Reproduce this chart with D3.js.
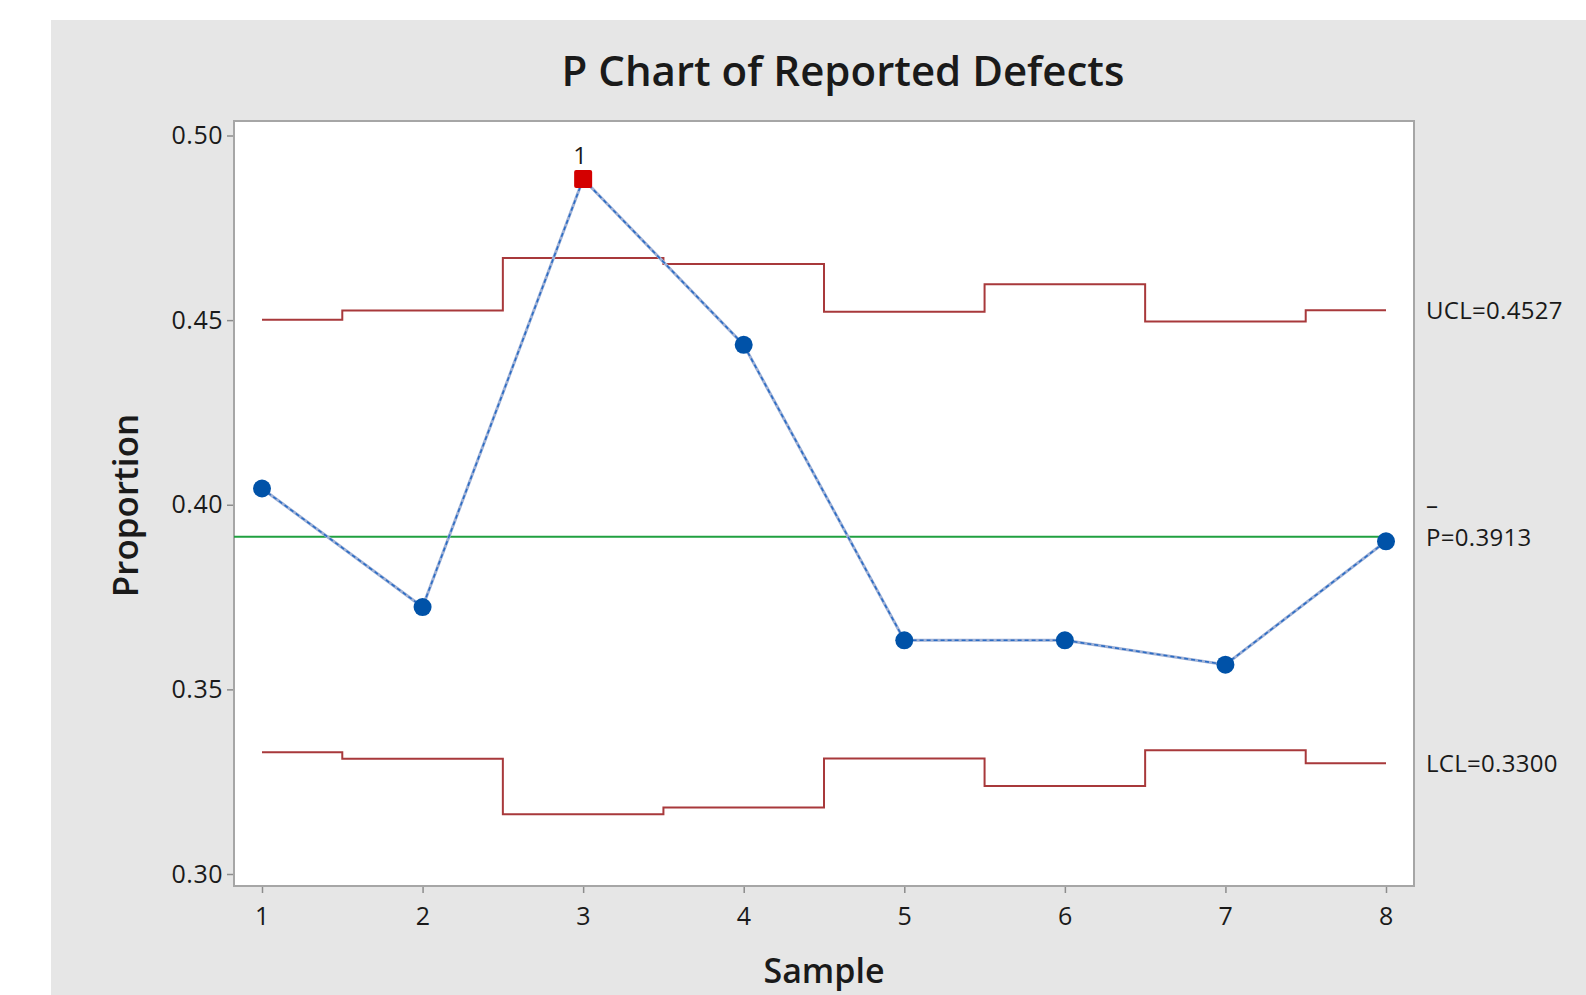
<!DOCTYPE html>
<html>
<head>
<meta charset="utf-8">
<script src="https://cdn.jsdelivr.net/npm/d3@7"></script>
<style>
  body { margin: 0; background: #fff; }
  text { font-family: "Open Sans", "Noto Sans", sans-serif; fill: #1a1a1a; }
</style>
</head>
<body>
<div id="chart"></div>
<script>
// Sample numbers and observed proportions
const samples = [1, 2, 3, 4, 5, 6, 7, 8];
const proportions = [0.4044, 0.3723, 0.4882, 0.4433, 0.3633, 0.3633, 0.3567, 0.3901];
// Control limits per sample (vary with subgroup size)
const ucl = [0.4501, 0.4526, 0.4668, 0.4652, 0.4523, 0.4597, 0.4496, 0.4527];
const lcl = [0.3330, 0.3312, 0.3162, 0.3180, 0.3313, 0.3238, 0.3335, 0.3300];
const pBar = 0.3913;
const yTicks = [0.30, 0.35, 0.40, 0.45, 0.50];
// Samples that failed test 1
const outOfControl = [3];

const W = 1586, H = 995;
const box = { left: 234, top: 121, right: 1414, bottom: 886 };

const svg = d3.select("#chart").append("svg")
  .attr("width", W)
  .attr("height", H);

// gray panel
svg.append("rect")
  .attr("x", 51).attr("y", 20)
  .attr("width", W - 51).attr("height", H - 20)
  .attr("fill", "#e6e6e6");

// plot area
svg.append("rect")
  .attr("x", box.left).attr("y", box.top)
  .attr("width", box.right - box.left).attr("height", box.bottom - box.top)
  .attr("fill", "#fff")
  .attr("stroke", "#a6a6a6")
  .attr("stroke-width", 2);

const x = d3.scaleLinear().domain([1, 8]).range([262, 1386]);
const y = d3.scaleLinear().domain([0.30, 0.50]).range([874, 135.5]);

// axes
const yAxis = svg.append("g")
  .attr("transform", `translate(${box.left - 1},0)`)
  .call(d3.axisLeft(y).tickValues(yTicks).tickFormat(d3.format(".2f")).tickSize(6).tickPadding(4));
const xAxis = svg.append("g")
  .attr("transform", `translate(0,${box.bottom + 1})`)
  .call(d3.axisBottom(x).tickValues(samples).tickFormat(d3.format("d")).tickSize(6).tickPadding(14));

[yAxis, xAxis].forEach(a => {
  a.select(".domain").remove();
  a.selectAll(".tick line").attr("stroke", "#8c8c8c").attr("stroke-width", 1.5);
  a.selectAll(".tick text")
    .style("font-size", "25px")
    .style("font-family", "'Open Sans', sans-serif")
    .style("letter-spacing", "0.5px")
    .attr("fill", "#1a1a1a");
});

// control limit step lines
const stepLine = d3.line()
  .x((d, i) => x(samples[i]))
  .y(d => y(d))
  .curve(d3.curveStep);

[ucl, lcl].forEach(lim => {
  svg.append("path")
    .attr("d", stepLine(lim))
    .attr("fill", "none")
    .attr("stroke", "#a8393b")
    .attr("stroke-width", 2);
});

// center line
svg.append("line")
  .attr("x1", box.left).attr("x2", x(8))
  .attr("y1", y(pBar)).attr("y2", y(pBar))
  .attr("stroke", "#20a040")
  .attr("stroke-width", 2);

// data line
const dataLine = d3.line()
  .x((d, i) => x(samples[i]))
  .y(d => y(d));

svg.append("path")
  .attr("d", dataLine(proportions))
  .attr("fill", "none")
  .attr("stroke", "#9fb1d6")
  .attr("stroke-width", 3);
svg.append("path")
  .attr("d", dataLine(proportions))
  .attr("fill", "none")
  .attr("stroke", "#2b6cc4")
  .attr("stroke-width", 1.6)
  .attr("stroke-dasharray", "4,3");

// points
const pts = samples.map((s, i) => ({ s, v: proportions[i] }));
svg.selectAll(".pt")
  .data(pts.filter(d => !outOfControl.includes(d.s)))
  .join("circle")
  .attr("class", "pt")
  .attr("cx", d => x(d.s))
  .attr("cy", d => y(d.v))
  .attr("r", 9)
  .attr("fill", "#0052a8");

const bad = pts.filter(d => outOfControl.includes(d.s));
svg.selectAll(".bad")
  .data(bad)
  .join("rect")
  .attr("class", "bad")
  .attr("x", d => x(d.s) - 9)
  .attr("y", d => y(d.v) - 9)
  .attr("width", 18).attr("height", 18)
  .attr("rx", 2)
  .attr("fill", "#d40000");
svg.selectAll(".badlab")
  .data(bad)
  .join("text")
  .attr("class", "badlab")
  .attr("x", d => x(d.s) - 3)
  .attr("y", d => y(d.v) - 15)
  .attr("text-anchor", "middle")
  .style("font-size", "24px")
  .text("1");

// limit labels
const labX = 1426;
const labStyle = sel => sel.style("font-size", "24px").style("letter-spacing", "0.3px");
svg.append("text")
  .attr("x", labX).attr("y", y(ucl[ucl.length - 1]) + 9)
  .call(labStyle)
  .text("UCL=" + d3.format(".4f")(ucl[ucl.length - 1]));
svg.append("text")
  .attr("x", labX).attr("y", y(lcl[lcl.length - 1]) + 9)
  .call(labStyle)
  .text("LCL=" + d3.format(".4f")(lcl[lcl.length - 1]));
svg.append("text")
  .attr("x", labX).attr("y", y(pBar) + 9)
  .call(labStyle)
  .text("P=" + d3.format(".4f")(pBar));
svg.append("text")
  .attr("x", labX).attr("y", y(pBar) - 23)
  .call(labStyle)
  .text("–");

// titles
svg.append("text")
  .attr("x", 843).attr("y", 86)
  .attr("text-anchor", "middle")
  .style("font-size", "42px")
  .style("font-weight", "600")
  .text("P Chart of Reported Defects");

svg.append("text")
  .attr("x", 824).attr("y", 983)
  .attr("text-anchor", "middle")
  .style("font-size", "34px")
  .style("font-weight", "600")
  .text("Sample");

svg.append("text")
  .attr("transform", `translate(138,${(box.top + box.bottom) / 2 + 2}) rotate(-90)`)
  .attr("text-anchor", "middle")
  .style("font-size", "35px")
  .style("font-weight", "600")
  .text("Proportion");
</script>
</body>
</html>
